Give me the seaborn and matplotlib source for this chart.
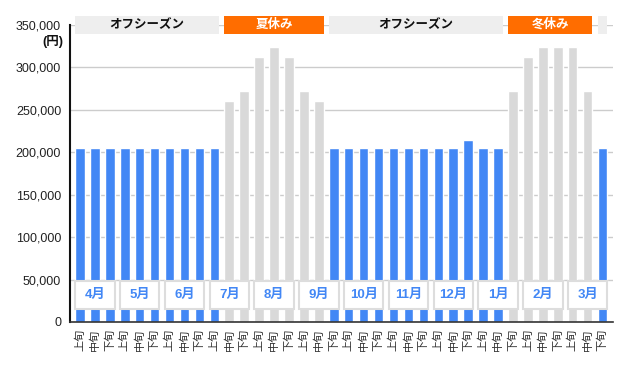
import numpy as np
import pandas as pd
import matplotlib
matplotlib.use('Agg')
import matplotlib.pyplot as plt
import seaborn as sns
from matplotlib.patches import Rectangle
from matplotlib.ticker import FuncFormatter

sns.set_style('white')
plt.rcParams['font.family'] = ['Liberation Sans', 'Noto Sans CJK JP', 'DejaVu Sans']

# data
months = ['4月', '5月', '6月', '7月', '8月', '9月', '10月', '11月', '12月', '1月', '2月', '3月']
periods = ['上旬', '中旬', '下旬']
prices = [205000, 205000, 205000, 205000, 205000, 205000, 205000, 205000, 205000,
          205000, 260000, 272000, 312000, 324000, 312000, 272000, 260000, 205000,
          205000, 205000, 205000, 205000, 205000, 205000, 205000, 205000, 215000,
          205000, 205000, 272000, 312000, 324000, 324000, 324000, 272000, 205000]
season = ['off'] * 10 + ['summer'] * 7 + ['off'] * 12 + ['winter'] * 6 + ['off'] * 1
season_names = {'off': 'オフシーズン', 'summer': '夏休み', 'winter': '冬休み'}

df = pd.DataFrame({'idx': np.arange(len(prices)), 'price': prices, 'season': season})
df['holiday'] = np.where(df['season'] == 'off', 'off', 'holiday')

BLUE = '#4287f5'
GRAY = '#d9d9d9'
ORANGE = '#ff6d00'
BW = 0.64

fig = plt.figure(figsize=(6.32, 3.71), dpi=100)
ax = fig.add_axes([69.5 / 632, 1 - 322 / 371, (613 - 69.5) / 632, (322 - 25) / 371])

ax.yaxis.grid(True, color='#cccccc', linewidth=1, zorder=0)
ax.set_axisbelow(True)
sns.barplot(data=df, x='idx', y='price', hue='holiday', palette={'off': BLUE, 'holiday': GRAY},
            dodge=False, width=BW, legend=False, ax=ax, saturation=1, zorder=2)

ax.set_xlim(-0.7, len(prices) - 0.3)
ax.set_ylim(0, 350000)
ax.set_yticks(np.arange(0, 350001, 50000))
ax.yaxis.set_major_formatter(FuncFormatter(lambda v, p: f'{int(v):,}'))
ax.set_xticks(np.arange(len(prices)))
ax.set_xticklabels(periods * len(months), rotation=90, fontsize=8, color='#333333')
ax.tick_params(axis='both', length=0)
ax.tick_params(axis='x', pad=5)
ax.tick_params(axis='y', labelsize=9, pad=6, labelcolor='#222222')
ax.set_xlabel('')
ax.set_ylabel('')
for s in ['top', 'right']:
    ax.spines[s].set_visible(False)
ax.spines['left'].set_color('#111111')
ax.spines['left'].set_linewidth(1.5)
ax.spines['bottom'].set_color('#333333')
ax.spines['bottom'].set_linewidth(1.2)

# month boxes
for m, name in enumerate(months):
    x0 = 3 * m - BW / 2
    ax.add_patch(Rectangle((x0, 15000), 2 + BW, 33500, facecolor='white',
                           edgecolor='#dddddd', linewidth=1.5, zorder=4))
    ax.text(3 * m + 1, 31750, name, ha='center', va='center', color=BLUE,
            fontsize=9.5, fontweight='bold', zorder=5)

# season bands
start = 0
for i in range(1, len(season) + 1):
    if i == len(season) or season[i] != season[start]:
        s = season[start]
        fc = '#eeeeee' if s == 'off' else ORANGE
        tc = '#111111' if s == 'off' else 'white'
        x0 = start - BW / 2
        w = (i - 1) - start + BW
        ax.add_patch(Rectangle((x0, 339500), w, 21500, facecolor=fc, edgecolor='none',
                               clip_on=False, zorder=3))
        if w > 2:
            ax.text(x0 + w / 2, 350250, season_names[s], ha='center', va='center',
                    color=tc, fontsize=9, fontweight='bold', zorder=4, clip_on=False)
        start = i

fig.text(63 / 632, 1 - 41 / 371, '(円)', ha='right', va='center', fontsize=9,
         fontweight='bold', color='#111111')

fig.savefig('out.png', dpi=100)
